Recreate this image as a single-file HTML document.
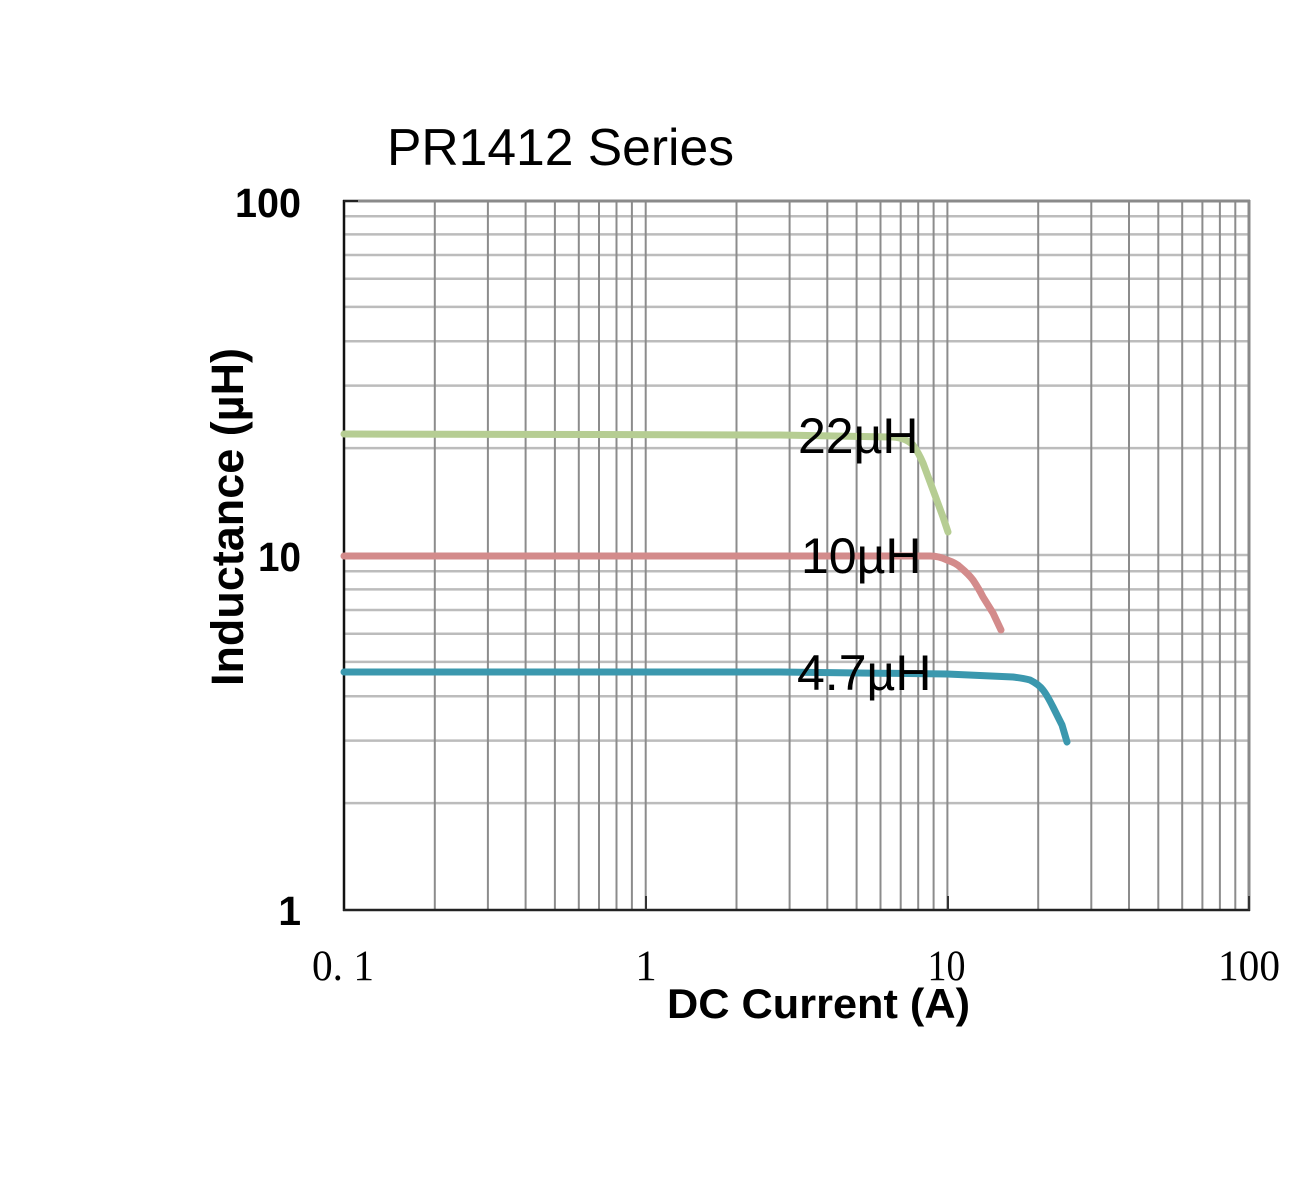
<!DOCTYPE html>
<html><head><meta charset="utf-8"><style>
html,body{margin:0;padding:0;background:#fff;}
svg{display:block;}
</style></head><body>
<svg width="1300" height="1200" viewBox="0 0 1300 1200" xmlns="http://www.w3.org/2000/svg">
<rect width="1300" height="1200" fill="#fff"/>
<!-- horizontal grid -->
<g stroke="#bcbcbc" stroke-width="2.5">
<line x1="345" x2="1248" y1="216.2" y2="216.2"/>
<line x1="345" x2="1248" y1="234.4" y2="234.4"/>
<line x1="345" x2="1248" y1="255.0" y2="255.0"/>
<line x1="345" x2="1248" y1="278.8" y2="278.8"/>
<line x1="345" x2="1248" y1="306.9" y2="306.9"/>
<line x1="345" x2="1248" y1="341.3" y2="341.3"/>
<line x1="345" x2="1248" y1="385.6" y2="385.6"/>
<line x1="345" x2="1248" y1="448.1" y2="448.1"/>
<line x1="345" x2="1248" y1="555" y2="555"/>
<line x1="345" x2="1248" y1="571.2" y2="571.2"/>
<line x1="345" x2="1248" y1="589.4" y2="589.4"/>
<line x1="345" x2="1248" y1="610.0" y2="610.0"/>
<line x1="345" x2="1248" y1="633.8" y2="633.8"/>
<line x1="345" x2="1248" y1="661.9" y2="661.9"/>
<line x1="345" x2="1248" y1="696.3" y2="696.3"/>
<line x1="345" x2="1248" y1="740.6" y2="740.6"/>
<line x1="345" x2="1248" y1="803.1" y2="803.1"/>
</g>
<!-- vertical grid -->
<g stroke="#8c8c8c" stroke-width="2">
<line y1="201" y2="910" x1="434.8" x2="434.8"/>
<line y1="201" y2="910" x1="487.9" x2="487.9"/>
<line y1="201" y2="910" x1="525.6" x2="525.6"/>
<line y1="201" y2="910" x1="554.9" x2="554.9"/>
<line y1="201" y2="910" x1="578.8" x2="578.8"/>
<line y1="201" y2="910" x1="599.0" x2="599.0"/>
<line y1="201" y2="910" x1="616.5" x2="616.5"/>
<line y1="201" y2="910" x1="631.9" x2="631.9"/>
<line y1="201" y2="910" x1="645.7" x2="645.7"/>
<line y1="201" y2="910" x1="736.5" x2="736.5"/>
<line y1="201" y2="910" x1="789.6" x2="789.6"/>
<line y1="201" y2="910" x1="827.3" x2="827.3"/>
<line y1="201" y2="910" x1="856.6" x2="856.6"/>
<line y1="201" y2="910" x1="880.5" x2="880.5"/>
<line y1="201" y2="910" x1="900.7" x2="900.7"/>
<line y1="201" y2="910" x1="918.2" x2="918.2"/>
<line y1="201" y2="910" x1="933.6" x2="933.6"/>
<line y1="201" y2="910" x1="947.4" x2="947.4"/>
<line y1="201" y2="910" x1="1038.2" x2="1038.2"/>
<line y1="201" y2="910" x1="1091.3" x2="1091.3"/>
<line y1="201" y2="910" x1="1129.0" x2="1129.0"/>
<line y1="201" y2="910" x1="1158.3" x2="1158.3"/>
<line y1="201" y2="910" x1="1182.2" x2="1182.2"/>
<line y1="201" y2="910" x1="1202.4" x2="1202.4"/>
<line y1="201" y2="910" x1="1219.9" x2="1219.9"/>
<line y1="201" y2="910" x1="1235.3" x2="1235.3"/>
</g>
<!-- borders -->
<line x1="343" x2="1250" y1="201" y2="201" stroke="#8a8a8a" stroke-width="3"/>
<line x1="1249" x2="1249" y1="200" y2="911" stroke="#8a8a8a" stroke-width="3"/>
<line x1="344" x2="344" y1="200" y2="911" stroke="#111" stroke-width="2.5"/>
<line x1="343" x2="1250" y1="910" y2="910" stroke="#222" stroke-width="2.5"/>
<line x1="344" x2="358" y1="201" y2="201" stroke="#222" stroke-width="2"/>
<line x1="646" x2="646" y1="896" y2="910" stroke="#333" stroke-width="2"/>
<line x1="948" x2="948" y1="896" y2="910" stroke="#333" stroke-width="2"/>
<line x1="1249" x2="1249" y1="896" y2="910" stroke="#333" stroke-width="2"/>
<!-- curves -->
<g fill="none" stroke-width="7" stroke-linecap="round" stroke-linejoin="round">
<path stroke="#b6cd93" d="M344,434 L600,434.5 L780,435 L893,437 C900,437.5 908,440 913,445 C918,452 920,456 923,463 L933,490 L943,517 L948,532"/>
<path stroke="#d38b8b" d="M344,556 L780,556 L930,556 C938,556 943,558 947,560 C953,562 957,564 960,567 C966,572 970,576 973,580 C977,586 980,591 983,597 L993,613 L1001,630"/>
<path stroke="#3b98ae" d="M344,672 L780,672 L947,674 L1013,677 C1021,678 1026,679 1030,680 C1036,683 1040,686 1043,690 C1047,695 1050,701 1053,707 L1062,725 L1067,742"/>
</g>
<!-- series labels -->
<g font-family="Liberation Sans, Arial, sans-serif" font-size="50" fill="#000">
<text x="798" y="453">22µH</text>
<text x="801" y="573">10µH</text>
<text x="797" y="690">4.7µH</text>
</g>
<!-- title -->
<text x="387" y="165" font-family="Liberation Sans, Arial, sans-serif" font-size="52" fill="#000" textLength="347" lengthAdjust="spacingAndGlyphs">PR1412 Series</text>
<!-- y tick labels -->
<g font-family="Liberation Sans, Arial, sans-serif" font-size="41" font-weight="bold" fill="#000" text-anchor="end">
<text x="301" y="217" textLength="66" lengthAdjust="spacingAndGlyphs">100</text>
<text x="301" y="571" textLength="43" lengthAdjust="spacingAndGlyphs">10</text>
<text x="301" y="925">1</text>
</g>
<!-- x tick labels -->
<g font-family="Liberation Serif, Times New Roman, serif" font-size="43" fill="#000" text-anchor="middle">
<text x="343" y="980" textLength="62" lengthAdjust="spacingAndGlyphs">0. 1</text>
<text x="646" y="980">1</text>
<text x="946.5" y="980" textLength="38" lengthAdjust="spacingAndGlyphs">10</text>
<text x="1249" y="980" textLength="62" lengthAdjust="spacingAndGlyphs">100</text>
</g>
<!-- axis titles -->
<text x="667" y="1018" font-family="Liberation Sans, Arial, sans-serif" font-size="42" font-weight="bold" fill="#000" textLength="303" lengthAdjust="spacingAndGlyphs">DC Current (A)</text>
<text transform="translate(243,517) rotate(-90)" x="0" y="0" text-anchor="middle" font-family="Liberation Sans, Arial, sans-serif" font-size="45" font-weight="bold" fill="#000" textLength="338" lengthAdjust="spacingAndGlyphs">Inductance (µH)</text>
</svg>
</body></html>
